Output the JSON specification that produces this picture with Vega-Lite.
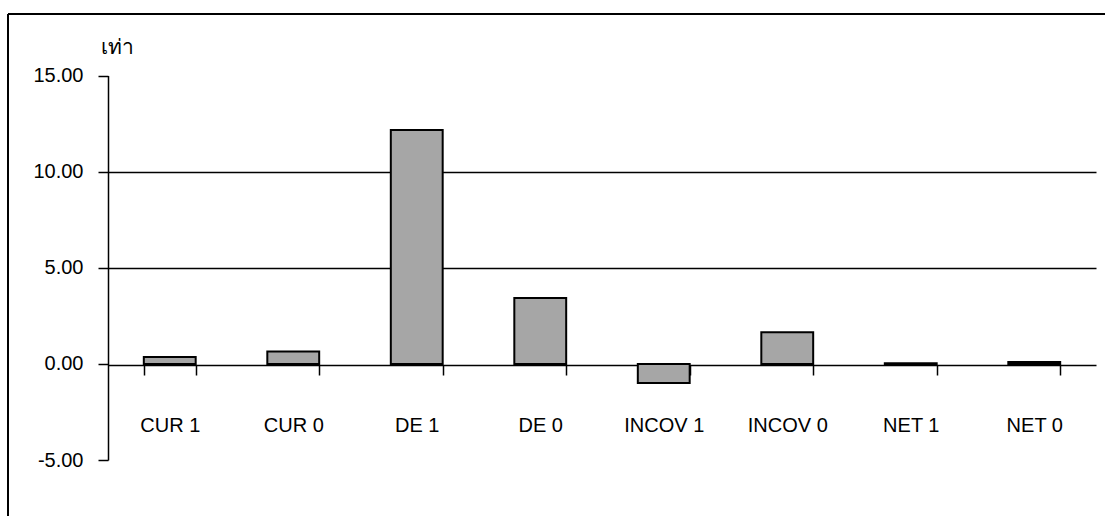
{
  "$schema": "https://vega.github.io/schema/vega-lite/v6.json",
  "autosize": {"type": "none"},
  "padding": {"left": 8, "top": 14, "right": 0, "bottom": 0},
  "width": 1097,
  "height": 502,
  "background": "white",
  "config": {
    "view": {"stroke": null},
    "font": "Liberation Sans",
    "axis": {"labelFont": "Liberation Sans", "titleFont": "Liberation Sans", "labelColor": "black", "titleColor": "black"}
  },
  "data": {
    "values": [
      {"ratio": "CUR 1", "value": 0.36},
      {"ratio": "CUR 0", "value": 0.64},
      {"ratio": "DE 1", "value": 12.17},
      {"ratio": "DE 0", "value": 3.43},
      {"ratio": "INCOV 1", "value": -1.0},
      {"ratio": "INCOV 0", "value": 1.64},
      {"ratio": "NET 1", "value": 0.03},
      {"ratio": "NET 0", "value": 0.1}
    ]
  },
  "layer": [
    {
      "mark": {"type": "bar", "fill": "#a6a6a6", "stroke": "black", "strokeWidth": 2},
      "encoding": {
        "x": {
          "field": "ratio",
          "type": "nominal",
          "sort": null,
          "scale": {"range": [100, 1088], "paddingInner": 0.58, "paddingOuter": 0.29},
          "axis": {
            "title": null,
            "orient": "bottom",
            "offset": -151,
            "domainColor": "black",
            "domainWidth": 1.5,
            "tickColor": "black",
            "tickWidth": 1.5,
            "tickSize": 10,
            "tickBand": "extent",
            "labelAngle": 0,
            "labelFontSize": 20,
            "labelBaseline": "top",
            "labelPadding": 40
          }
        },
        "y": {
          "field": "value",
          "type": "quantitative",
          "scale": {"domain": [-5, 15], "range": [446, 61.5], "nice": false, "zero": false},
          "axis": {
            "values": [15, 10, 5, 0, -5],
            "format": ".2f",
            "labelExpr": "replace(datum.label, '−', '-')",
            "offset": -100,
            "domainColor": "black",
            "domainWidth": 1.5,
            "tickColor": "black",
            "tickWidth": 1.5,
            "tickSize": 10,
            "labelFontSize": 20,
            "labelPadding": 15,
            "grid": true,
            "gridColor": "black",
            "gridWidth": 1.5,
            "gridOpacity": {"condition": {"test": "datum.value == 10 || datum.value == 5", "value": 1}, "value": 0},
            "title": "เท่า",
            "titleAngle": 0,
            "titleAlign": "left",
            "titleBaseline": "alphabetic",
            "titleFontSize": 21,
            "titleFontWeight": "normal",
            "titleX": -8,
            "titleY": 39
          }
        }
      }
    },
    {
      "mark": {"type": "rule", "color": "black", "strokeWidth": 2},
      "encoding": {"y": {"datum": 18.195, "type": "quantitative"}}
    },
    {
      "mark": {"type": "rule", "color": "black", "strokeWidth": 2},
      "encoding": {
        "x": {"datum": 0, "type": "quantitative", "scale": {"domain": [0, 1], "range": [0, 1097]}, "axis": null}
      }
    }
  ],
  "resolve": {"scale": {"x": "independent"}, "axis": {"x": "independent"}}
}
